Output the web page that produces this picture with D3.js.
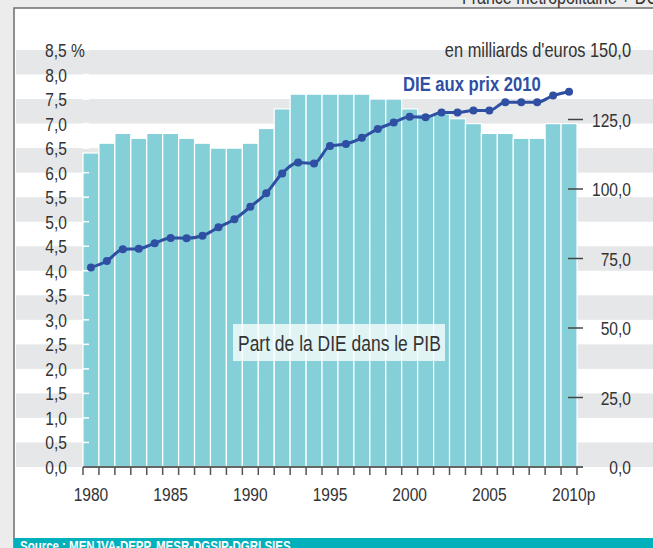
<!DOCTYPE html>
<html>
<head>
<meta charset="utf-8">
<script src="https://cdn.jsdelivr.net/npm/d3@7"></script>
<style>
  body { margin: 0; background: #ececec; overflow: hidden; }
  text { font-family: "Liberation Sans", Arial, sans-serif; }
</style>
</head>
<body>
<div id="chart"></div>
<script>
// Data
const years = d3.range(1980, 2011);
const partPIB = [6.4, 6.6, 6.8, 6.7, 6.8, 6.8, 6.7, 6.6, 6.5, 6.5, 6.6, 6.9, 7.3, 7.6, 7.6, 7.6, 7.6, 7.6, 7.5, 7.5,
                 7.3, 7.2, 7.2, 7.1, 7.0, 6.8, 6.8, 6.7, 6.7, 7.0, 7.0];
const dieMds = [71.8, 74.1, 78.3, 78.5, 80.5, 82.4, 82.3, 83.2, 86.2, 89.1, 93.6, 98.5, 105.6, 109.5, 109.2, 115.5,
                116.2, 118.4, 121.6, 123.9, 126.0, 125.8, 127.5, 127.5, 128.2, 128.2, 131.2, 131.2, 131.2, 133.6, 135.0];
const leftTicks = d3.range(0, 8.51, 0.5);
const rightTicks = [0, 25, 50, 75, 100, 125];
const yearLabels = [1980, 1985, 1990, 1995, 2000, 2005, 2010];

const width = 653, height = 548;
const SX = 0.82; // condensed look
const svg = d3.select("#chart").append("svg")
    .attr("width", width)
    .attr("height", height);

// text helper, squeezed horizontally
function label(x, y, str, size, opts = {}) {
    return svg.append("text")
        .attr("transform", `translate(${x},${y}) scale(${SX},1)`)
        .attr("text-anchor", opts.anchor || "start")
        .attr("font-size", size)
        .attr("font-weight", opts.weight || "normal")
        .attr("fill", opts.fill || "#333")
        .text(str);
}

// Panel
svg.append("rect").attr("x", 0).attr("y", 0).attr("width", width).attr("height", height).attr("fill", "#ececec");
svg.append("rect").attr("x", 14).attr("y", 8).attr("width", width).attr("height", 540).attr("fill", "#fff");
svg.append("path").attr("d", "M14,548V8H653").attr("fill", "none").attr("stroke", "#6e6e6e").attr("stroke-width", 1.5);

label(462, 4, "France métropolitaine + DOM", 19.5);

// Scales
const x = d3.scaleBand().domain(years).range([83, 577]).padding(0);
const yL = d3.scaleLinear().domain([0, 8.5]).range([467, 50]);
const yR = d3.scaleLinear().domain([0, 150]).range([467, 50]);
const fmt = v => d3.format(".1f")(v).replace(".", ",");

// Gray bands
svg.append("g").selectAll("rect")
    .data(leftTicks.slice(0, -1).filter((d, i) => i % 2 === 0))
    .join("rect")
    .attr("x", 16)
    .attr("width", width - 16)
    .attr("y", d => yL(d + 0.5))
    .attr("height", d => yL(d) - yL(d + 0.5))
    .attr("fill", "#e6e7e8");

// Bars
svg.append("g").selectAll("rect")
    .data(years)
    .join("rect")
    .attr("x", d => x(d))
    .attr("width", x.bandwidth())
    .attr("y", (d, i) => yL(partPIB[i]))
    .attr("height", (d, i) => yL(0) - yL(partPIB[i]))
    .attr("fill", "#85d0d8")
    .attr("stroke", "#fff")
    .attr("stroke-width", 1.2);

// Left ticks (white over bars)
svg.append("g").selectAll("line")
    .data(leftTicks.slice(1))
    .join("line")
    .attr("x1", 83).attr("x2", 89)
    .attr("y1", d => yL(d)).attr("y2", d => yL(d))
    .attr("stroke", "#fff").attr("stroke-width", 1.5);

// Left labels
leftTicks.slice(0, -1).forEach(d => label(67, yL(d) + 7, fmt(d), 19, { anchor: "end" }));
label(45, yL(8.5) + 7, "8,5 %", 19);

// Right ticks and labels
svg.append("g").selectAll("line")
    .data(rightTicks)
    .join("line")
    .attr("x1", 568).attr("x2", 583)
    .attr("y1", d => yR(d)).attr("y2", d => yR(d))
    .attr("stroke", "#444").attr("stroke-width", 1.5);
rightTicks.forEach(d => label(631, yR(d) + 7, fmt(d), 19, { anchor: "end" }));
label(631, yR(150) + 7, "en milliards d'euros 150,0", 20, { anchor: "end" });

// X axis
svg.append("line").attr("x1", 83).attr("x2", 583).attr("y1", 467).attr("y2", 467)
    .attr("stroke", "#666").attr("stroke-width", 2);
svg.append("g").selectAll("line")
    .data(years.concat([2011]))
    .join("line")
    .attr("x1", d => d === 2011 ? 577 : x(d))
    .attr("x2", d => d === 2011 ? 577 : x(d))
    .attr("y1", 467).attr("y2", 475)
    .attr("stroke", "#555").attr("stroke-width", 1.5);
yearLabels.forEach(d => {
    const cx = x(d) + x.bandwidth() / 2;
    if (d === 2010) label(cx - 17, 501, "2010p", 19);
    else label(cx, 501, String(d), 19, { anchor: "middle" });
});

// Line
const line = d3.line()
    .x((d, i) => x(years[i]) + x.bandwidth() / 2)
    .y(d => yR(d))
    .curve(d3.curveMonotoneX);
svg.append("path")
    .datum(dieMds)
    .attr("d", line)
    .attr("fill", "none")
    .attr("stroke", "#2f4fa2")
    .attr("stroke-width", 3);
svg.append("g").selectAll("circle")
    .data(dieMds)
    .join("circle")
    .attr("cx", (d, i) => x(years[i]) + x.bandwidth() / 2)
    .attr("cy", d => yR(d))
    .attr("r", 4)
    .attr("fill", "#2f4fa2");

label(403, 90.5, "DIE aux prix 2010", 20.3, { weight: "bold", fill: "#2f4fa2" });

// Series label box
svg.append("rect").attr("x", 233).attr("y", 324).attr("width", 212).attr("height", 37)
    .attr("fill", "#fff").attr("fill-opacity", 0.75);
label(238, 351, "Part de la DIE dans le PIB", 21.3);

// Source strip
svg.append("rect").attr("x", 14).attr("y", 538).attr("width", width).attr("height", 10).attr("fill", "#00b1bc");
label(20, 551, "Source : MENJVA-DEPP, MESR-DGSIP-DGRI SIES", 14, { weight: "bold", fill: "#fff" });
</script>
</body>
</html>
